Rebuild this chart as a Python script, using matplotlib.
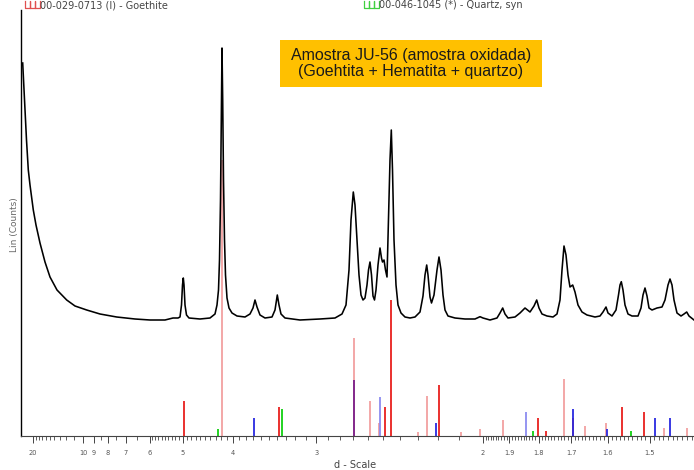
import numpy as np
import matplotlib.pyplot as plt
from matplotlib.lines import Line2D
from matplotlib.patches import Rectangle

# Difratograma medido: (1/d em 10^-3 1/Å, intensidade em counts)
scan = [
    (39.7, 3730), (41, 3460), (42, 3230), (43.5, 2960), (45.3, 2660), (47, 2510),
    (50.3, 2260), (53, 2110), (57, 1930), (62, 1740), (67, 1590), (74, 1460),
    (83.7, 1360), (92, 1300), (103.7, 1260), (117, 1220), (133.7, 1190), (152, 1170),
    (167, 1160), (182, 1160), (190, 1180), (195, 1180), (197, 1190), (198.5, 1310),
    (199.5, 1510), (200.3, 1580), (201, 1510), (202, 1310), (203.5, 1210), (206, 1180),
    (217, 1170), (227, 1180), (232, 1220), (234, 1310), (235.5, 1460), (236.5, 1760),
    (237.5, 2360), (238.3, 3160), (239, 3880), (239.7, 3360), (240.5, 2560), (241.5, 1960),
    (242.5, 1610), (244, 1380), (246, 1280), (249, 1230), (254, 1200), (262, 1190),
    (267, 1220), (270, 1280), (272, 1360), (274, 1290), (277, 1210), (282, 1180),
    (289, 1190), (292, 1260), (294.3, 1410), (296, 1310), (298, 1220), (302, 1180),
    (317, 1160), (337, 1170), (352, 1180), (359, 1220), (363, 1310), (366, 1660),
    (368, 2160), (370.3, 2440), (372, 2310), (374, 1960), (376, 1610), (378, 1410),
    (380, 1360), (382, 1380), (384, 1510), (385.5, 1660), (387, 1740), (388.5, 1610),
    (390, 1400), (391.5, 1360), (393, 1460), (395, 1710), (397, 1880), (398.5, 1780),
    (399.5, 1740), (401, 1760), (402.5, 1660), (404, 1590), (405.5, 2160), (407, 2760),
    (408.3, 3060), (409.5, 2660), (411, 1960), (413, 1510), (415, 1310), (418, 1230),
    (422, 1190), (427, 1180), (432, 1190), (437, 1240), (440, 1400), (442, 1610),
    (443.7, 1710), (445, 1610), (447, 1390), (448.5, 1330), (451, 1410), (454, 1660),
    (456, 1790), (458, 1660), (460, 1410), (462, 1260), (465, 1200), (472, 1180),
    (482, 1170), (492, 1170), (497, 1193), (500, 1180), (507, 1160), (514, 1180),
    (517, 1230), (519.7, 1280), (522, 1220), (525, 1180), (532, 1190), (537, 1230),
    (542, 1280), (547, 1240), (551, 1300), (553.7, 1360), (556, 1280), (559, 1220),
    (564, 1200), (570, 1190), (574, 1220), (577, 1360), (579, 1660), (581, 1900),
    (583, 1810), (585, 1610), (587, 1490), (589.7, 1510), (592, 1440), (595, 1310),
    (599, 1240), (604, 1210), (612, 1190), (617, 1200), (620, 1240), (623, 1290),
    (625, 1230), (629, 1200), (633, 1260), (635.5, 1410), (637, 1510), (638.3, 1543),
    (640, 1460), (642, 1310), (645, 1220), (649, 1200), (655, 1200), (658, 1280),
    (660, 1410), (662, 1480), (664, 1400), (666, 1280), (669, 1260), (674, 1280),
    (679, 1290), (682, 1360), (685, 1510), (687, 1570), (689, 1510), (691, 1360),
    (694, 1230), (698, 1200), (701, 1220), (703.7, 1240), (706, 1200), (711, 1160),
]
inv_d = np.array([p[0] for p in scan]) / 1000
counts = np.array([p[1] for p in scan])

# Linhas de referência (1/d, intensidade)
pink_pos = [0.2393, 0.371, 0.387, 0.396, 0.4437, 0.4347, 0.4777, 0.497, 0.5203,
            0.5807, 0.6023, 0.623, 0.6807, 0.7037]
pink_int = [2760, 980, 350, 130, 400, 43, 43, 70, 160, 567, 100, 127, 77, 77]
red_pos = [0.2013, 0.2957, 0.402, 0.4083, 0.456, 0.555, 0.563, 0.6393, 0.6613, 0.5897]
red_int = [350, 293, 293, 1360, 510, 183, 50, 293, 240, 183]
blue_pos = [0.2713, 0.453, 0.5897, 0.6243, 0.6723, 0.6873]
blue_int = [183, 127, 267, 70, 183, 183]
lblue_pos = [0.397, 0.5427]
lblue_int = [393, 237]
purple_pos = [0.371]
purple_int = [560]
green_pos = [0.2993, 0.2353, 0.5497, 0.648]
green_int = [273, 70, 50, 50]

# Eixo em d (Å)
d_major = [20, 10, 9, 8, 7, 6, 5, 4, 3, 2, 1.9, 1.8, 1.7, 1.6, 1.5]
d_major_labels = ['20', '10', '9', '8', '7', '6', '5', '4', '3', '2', '1.9', '1.8', '1.7', '1.6', '1.5']

fig = plt.figure(figsize=(6.94, 4.70), dpi=100)
W, H = 694, 470
ax = fig.add_axes([21 / W, (H - 436) / H, (W - 21) / W, (436 - 10) / H])

for pos, inten, col in [(pink_pos, pink_int, '#f2a0a0'), (red_pos, red_int, '#e8201e'),
                        (lblue_pos, lblue_int, '#8c8cf0'), (blue_pos, blue_int, '#2a2ae0'),
                        (purple_pos, purple_int, '#7a1f8a'), (green_pos, green_int, '#10d010')]:
    ax.vlines(pos, 0, inten, colors=col, lw=1.3, zorder=2)

ax.plot(inv_d, counts, color='black', lw=1.15, zorder=3)

ax.set_xlim(0.038, 0.711)
ax.set_ylim(0, 4260)
ax.spines['top'].set_visible(False)
ax.spines['right'].set_visible(False)
ax.spines['left'].set_linewidth(1.0)
ax.spines['bottom'].set_linewidth(0.8)
ax.spines['bottom'].set_color('#444444')
ax.set_yticks([])

ax.set_xticks([1 / d for d in d_major])
ax.set_xticklabels(d_major_labels, fontsize=4.8, color='#555555')
minor_d = list(range(11, 20)) + list(np.arange(2.1, 6.0, 0.1)) + [6.5, 7.5, 8.5] + \
    list(np.arange(1.41, 2.0, 0.01))
ax.set_xticks([1 / d for d in minor_d], minor=True)
ax.tick_params(axis='x', which='major', length=5, width=0.7, color='#444444', pad=5)
ax.tick_params(axis='x', which='minor', length=3, width=0.6, color='#444444')

fig.text(355 / W, 1 - 465 / H, 'd - Scale', fontsize=7, color='#444444', ha='center', va='center')
fig.text(15 / W, 1 - 225 / H, 'Lin (Counts)', fontsize=6.5, color='#666666', rotation=90,
         ha='center', va='center')

# Legenda das fichas
def card_icon(x0, col):
    xs = [x0, x0, x0 + 5, x0 + 5, x0 + 5, x0 + 10, x0 + 10, x0 + 10, x0 + 15, x0 + 15]
    ys = [1, 8, 8, 1, 8, 8, 1, 8, 8, 1]
    fig.add_artist(Line2D([x / W for x in xs], [1 - y / H for y in ys], color=col, lw=0.9))

card_icon(25, '#e05050')
fig.text(40 / W, 1 - 5 / H, '00-029-0713 (I) - Goethite', fontsize=7, color='#444444', va='center')
card_icon(364, '#40d040')
fig.text(379 / W, 1 - 5 / H, '00-046-1045 (*) - Quartz, syn', fontsize=7, color='#444444', va='center')

# Caixa de título
fig.add_artist(Rectangle((280 / W, 1 - 87 / H), 262 / W, 47 / H, transform=fig.transFigure,
                         facecolor='#ffc000', edgecolor='none'))
fig.text(411 / W, 1 - 63.5 / H, 'Amostra JU-56 (amostra oxidada)\n(Goehtita + Hematita + quartzo)',
         fontsize=11.5, family='Liberation Sans', ha='center', va='center', linespacing=1.15,
         color='#1a1a1a')

fig.savefig('out.png', dpi=100)
